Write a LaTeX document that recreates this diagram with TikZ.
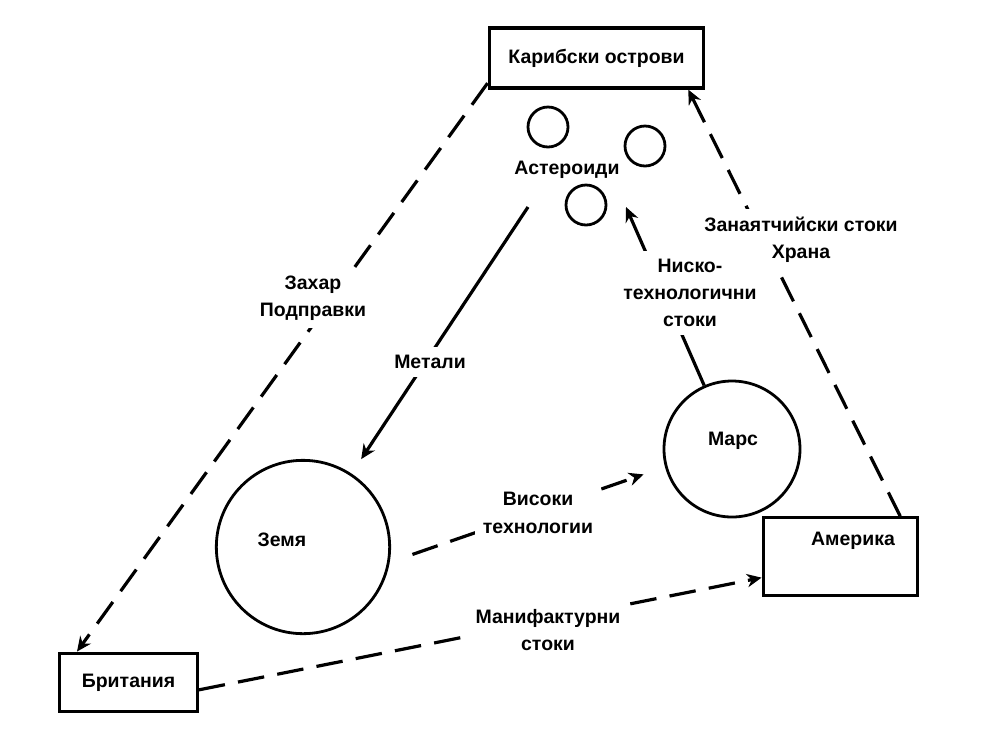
\documentclass[tikz,border=0pt]{standalone}
\usepackage{fontspec}
\setmainfont{Liberation Sans}
\usetikzlibrary{arrows.meta}
\tikzset{
  lbl/.style={font=\fontsize{14.6}{20.5}\selectfont\bfseries, align=center},
  place/.style={draw, rectangle, line width=2.4pt, inner sep=0pt},
  body/.style={draw, circle, line width=2.1pt, inner sep=0pt},
  tag/.style={lbl, fill=white, inner sep=6pt},
  flow/.style={line width=2.4pt, -{Stealth[length=11pt,width=10pt]}},
  trade/.style={flow, dash pattern=on 20pt off 10pt}
}
\begin{document}
\begin{tikzpicture}[x=0.75pt,y=-0.75pt]
\useasboundingbox (0,0) rectangle (985,733);

\node[place, lbl, minimum width=161pt, minimum height=45pt] (caribbean) at (596.5,58) {Карибски острови};
\node[place, lbl, minimum width=103pt, minimum height=44pt] (britain) at (128.5,682.5) {Британия};
\node[place, minimum width=116pt, minimum height=58pt] (america) at (840.5,556.5) {};
\node[lbl] (americaname) at (853,541) {Америка};

\node[body, minimum size=130pt] (earth) at (303,547) {};
\node[lbl] (earthname) at (282,540) {Земя};
\node[body, minimum size=102pt] (mars) at (732,449) {};
\node[lbl] (marsname) at (733,441) {Марс};

\node[body, minimum size=30pt] (ast1) at (548,127) {};
\node[body, minimum size=30pt] (ast2) at (645,146) {};
\node[body, minimum size=30pt] (ast3) at (586,205) {};
\node[lbl] (astname) at (567,170) {Астероиди};

\coordinate (metalsrc) at (528,207);
\coordinate (lowtip) at (626,207);

% flows
\draw[trade] (caribbean.193) -- (britain.149);
\draw[trade] (america.34) -- (caribbean.341);
\draw[trade] (britain.354) -- (america.195);
\draw[trade, shorten <=18pt, shorten >=17pt] (earth.-10) -- (mars.195);
\draw[flow, shorten >=13pt] (metalsrc) -- (earth);
\draw[flow] (mars) -- (lowtip);

\node[tag] (sugar) at (313,298) {Захар\\Подправки};
\node[tag] (crafts) at (801,240) {Занаятчийски стоки\\Храна};
\node[tag] (metals) at (430,362) {Метали};
\node[tag] (lowtech) at (690,293) {Ниско-\\технологични\\стоки};
\node[tag] (hightech) at (538,513) {Високи\\технологии};
\node[tag] (goods) at (548,630) {Манифактурни\\стоки};
\end{tikzpicture}
\end{document}
